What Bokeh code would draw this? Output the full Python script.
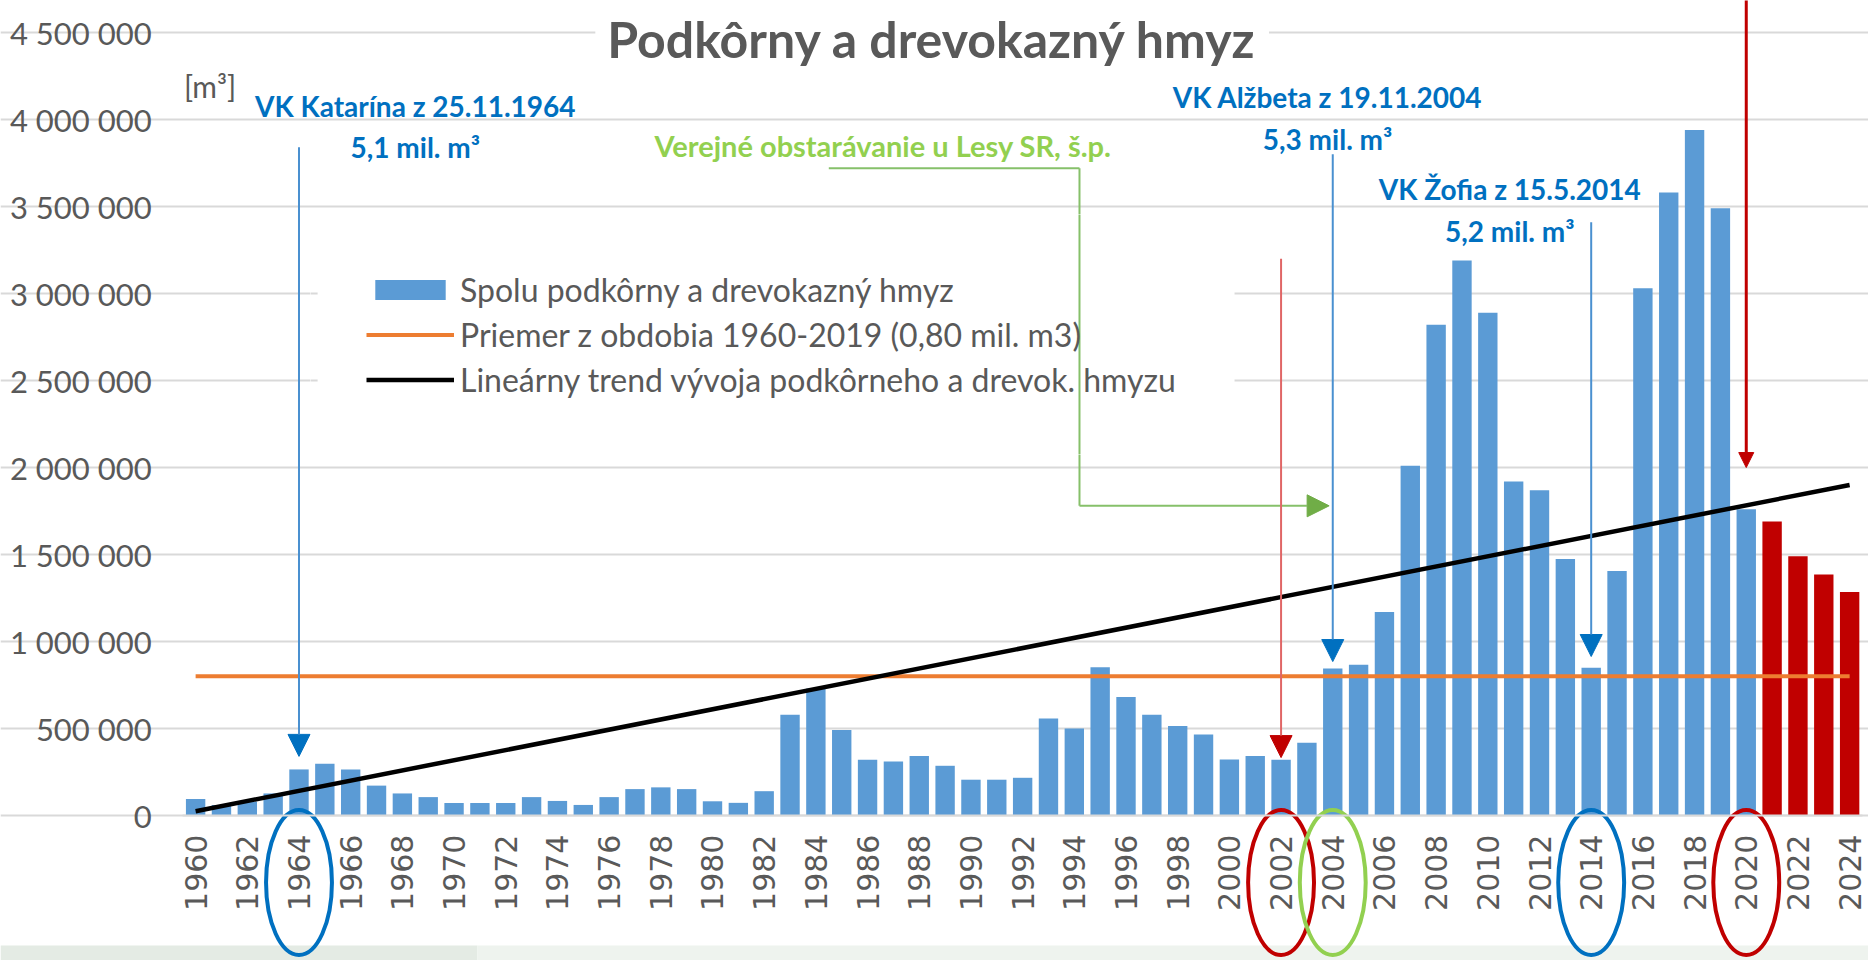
import math
from bokeh.plotting import figure
from bokeh.models import Range1d, FixedTicker, Label, Arrow, NormalHead, BoxAnnotation
from bokeh.embed import file_html
from bokeh.resources import INLINE

# ---------------- data ----------------
hist_years = list(range(1960, 2021))
hist_values = [
    95000, 60000, 80000, 127000, 265000, 298000, 265000, 172000, 127000, 106000,
    72000, 72000, 72000, 106000, 84000, 61000, 106000, 152000, 162000, 152000,
    82000, 73000, 140000, 580000, 730000, 492000, 320000, 311000, 342000, 286000,
    206000, 206000, 217000, 558000, 500000, 852000, 682000, 580000, 514000, 466000,
    322000, 342000, 320000, 418000, 845000, 866000, 1170000, 2010000, 2820000, 3190000,
    2890000, 1920000, 1870000, 1475000, 850000, 1405000, 3030000, 3580000, 3940000, 3490000,
    1760000,
]
forecast_years = [2021, 2022, 2023, 2024]
forecast_values = [1690000, 1490000, 1385000, 1285000]

avg_years = [1960, 2024]
avg_values = [800000, 800000]
trend_years = [1960, 2024]
trend_values = [25000, 1900000]

y_ticks = [0, 500000, 1000000, 1500000, 2000000, 2500000, 3000000, 3500000, 4000000, 4500000]
y_tick_labels = ["0", "500 000", "1 000 000", "1 500 000", "2 000 000", "2 500 000",
                 "3 000 000", "3 500 000", "4 000 000", "4 500 000"]
x_ticks = list(range(1960, 2025, 2))
x_tick_labels = [str(y) for y in x_ticks]

series_names = ["Spolu podkôrny a drevokazný hmyz",
                "Priemer z obdobia 1960-2019 (0,80 mil. m3)",
                "Lineárny trend vývoja podkôrneho a drevok. hmyzu"]
title_text = "Podkôrny a drevokazný hmyz"
unit_text = "[m³]"

# highlighted years (ellipses around the axis labels)
highlight_years = [1964, 2002, 2004, 2014, 2020]
highlight_colors = ["#0070C0", "#C00000", "#92D050", "#0070C0", "#C00000"]

# calamity annotations
event_titles = ["VK Katarína z 25.11.1964", "VK Alžbeta z 19.11.2004", "VK Žofia z 15.5.2014"]
event_volumes = ["5,1 mil. m³", "5,3 mil. m³", "5,2 mil. m³"]
event_text_x = [1968.5, 2003.8, 2010.85]
event_title_y = [4075000, 4130000, 3600000]
event_volume_y = [3840000, 3890000, 3360000]
event_years = [1964, 2004, 2014]
event_arrow_from = [3840000, 3800000, 3410000]
event_arrow_to = [340000, 885000, 914000]

procurement_text = "Verejné obstarávanie u Lesy SR, š.p."
procurement_text_pos = [1986.6, 3850000]
procurement_path_x = [1984.5, 1994.2, 1994.2]
procurement_path_y = [3720000, 3720000, 1780000]
procurement_arrow_end = [2003.86, 1780000]

red_arrow_years = [2002, 2020]
red_arrow_from = [3200000, 4690000]
red_arrow_to = [333000, 2000000]

# white area behind the legend (left, right, bottom, top)
legend_box = [1964.72, 2000.2, 2086000, 3448000]

# ---------------- figure ----------------
GRAY = "#595959"
X0, X1 = 1959.5, 2024.5          # extent of the category axis
p = figure(width=1868, height=960,
           x_range=Range1d(1952.45, 2024.73), y_range=Range1d(-833000, 4684000),
           output_backend="svg", toolbar_location=None,
           min_border_left=0, min_border_right=0, min_border_top=0, min_border_bottom=0,
           outline_line_color=None, background_fill_color="white", border_fill_color="white")

# faint slide band at the bottom
p.add_layout(BoxAnnotation(top=-747000, right=1970.9, fill_color="#E4EBE4", fill_alpha=1,
                           line_color=None, level="underlay"))
p.add_layout(BoxAnnotation(top=-747000, left=1970.9, fill_color="#EEF3EE", fill_alpha=1,
                           line_color=None, level="underlay"))
# white legend background (covers the grid lines only)
p.add_layout(BoxAnnotation(left=legend_box[0], right=legend_box[1],
                           bottom=legend_box[2], top=legend_box[3],
                           fill_color="white", fill_alpha=1, line_color=None, level="glyph"))

p.vbar(x=hist_years, top=hist_values, width=0.75, fill_color="#5B9BD5", line_color=None,
       legend_label=series_names[0])
p.vbar(x=forecast_years, top=forecast_values, width=0.75, fill_color="#C00000", line_color=None)
p.line(avg_years, avg_values, line_color="#ED7D31", line_width=4, legend_label=series_names[1])
p.line(trend_years, trend_values, line_color="black", line_width=4.5, legend_label=series_names[2])

# ellipses around selected year labels
p.ellipse(x=highlight_years, y=[-385000] * len(highlight_years), width=2.55, height=833000,
          fill_color=None, line_color=highlight_colors, line_width=4)

# axes
yt = FixedTicker(ticks=y_ticks)
p.yaxis.fixed_location = X0
p.yaxis.ticker = yt
p.ygrid.ticker = yt
p.ygrid.bounds = (X0, X1)
p.yaxis.major_label_overrides = {t: l for t, l in zip(y_ticks, y_tick_labels)}
p.yaxis.axis_line_color = None
p.yaxis.major_tick_line_color = None
p.yaxis.minor_tick_line_color = None
p.yaxis.major_label_text_font = "Lato"
p.yaxis.major_label_text_font_size = "31px"
p.yaxis.major_label_text_color = GRAY
p.yaxis.major_label_standoff = 25

p.ygrid.grid_line_color = "#D9D9D9"
p.ygrid.grid_line_width = 2
p.xgrid.visible = False

p.xaxis.fixed_location = 0
p.xaxis.bounds = (X0, X1)
p.xaxis.ticker = FixedTicker(ticks=x_ticks)
p.xaxis.major_label_overrides = {t: l for t, l in zip(x_ticks, x_tick_labels)}
p.xaxis.major_label_orientation = math.pi / 2
p.xaxis.major_label_text_font = "DejaVu Sans"
p.xaxis.major_label_text_font_size = "30px"
p.xaxis.major_label_text_color = GRAY
p.xaxis.major_label_standoff = 13
p.xaxis.axis_line_color = "#D9D9D9"
p.xaxis.axis_line_width = 2
p.xaxis.major_tick_line_color = None
p.xaxis.minor_tick_line_color = None

# legend
lg = p.legend[0]
lg.location = (310, 505)
lg.padding = 55
lg.margin = 0
lg.spacing = 6
lg.glyph_width = 88
lg.glyph_height = 25
lg.label_height = 39
lg.label_standoff = 6
lg.label_text_font = "Lato"
lg.label_text_font_size = "32px"
lg.label_text_color = GRAY
lg.background_fill_alpha = 0
lg.border_line_color = "white"
lg.border_line_width = 1

# title and unit
p.add_layout(Label(x=1988.5, y=4460000, text=title_text, text_font="Lato",
                   text_font_style="bold", text_font_size="50px", text_color=GRAY,
                   text_align="center", text_baseline="middle",
                   background_fill_color="white", padding=12))
p.add_layout(Label(x=1959.55, y=4190000, text=unit_text, text_font="Lato",
                   text_font_size="30px", text_color=GRAY,
                   text_align="left", text_baseline="middle"))

# calamity annotations
for i in range(len(event_titles)):
    p.add_layout(Label(x=event_text_x[i], y=event_title_y[i], text=event_titles[i],
                       text_font="Lato", text_font_style="bold", text_font_size="28px",
                       text_color="#0070C0", text_align="center", text_baseline="middle"))
    p.add_layout(Label(x=event_text_x[i], y=event_volume_y[i], text=event_volumes[i],
                       text_font="Lato", text_font_style="bold", text_font_size="28px",
                       text_color="#0070C0", text_align="center", text_baseline="middle"))
    p.add_layout(Arrow(end=NormalHead(size=22, fill_color="#0070C0", line_color="#0070C0"),
                       x_start=event_years[i], y_start=event_arrow_from[i],
                       x_end=event_years[i], y_end=event_arrow_to[i],
                       line_color="#4A90D0", line_width=2))

# procurement annotation (connector crosses the legend)
p.add_layout(Label(x=procurement_text_pos[0], y=procurement_text_pos[1], text=procurement_text,
                   text_font="Lato", text_font_style="bold", text_font_size="29px",
                   text_color="#92D050", text_align="center", text_baseline="middle"))
for k in range(len(procurement_path_x) - 1):
    p.add_layout(Arrow(end=None, x_start=procurement_path_x[k], y_start=procurement_path_y[k],
                       x_end=procurement_path_x[k + 1], y_end=procurement_path_y[k + 1],
                       line_color="#86C06A", line_width=2))
p.add_layout(Arrow(end=NormalHead(size=22, fill_color="#70AD47", line_color="#70AD47"),
                   x_start=procurement_path_x[-1], y_start=procurement_path_y[-1],
                   x_end=procurement_arrow_end[0], y_end=procurement_arrow_end[1],
                   line_color="#86C06A", line_width=2))

# red arrows
p.add_layout(Arrow(end=NormalHead(size=22, fill_color="#C00000", line_color="#C00000"),
                   x_start=red_arrow_years[0], y_start=red_arrow_from[0],
                   x_end=red_arrow_years[0], y_end=red_arrow_to[0],
                   line_color="#E06666", line_width=2))
p.add_layout(Arrow(end=NormalHead(size=15, fill_color="#C00000", line_color="#C00000"),
                   x_start=red_arrow_years[1], y_start=red_arrow_from[1],
                   x_end=red_arrow_years[1], y_end=red_arrow_to[1],
                   line_color="#C00000", line_width=3))

open("out.html", "w").write(file_html(p, INLINE, title="Podkôrny a drevokazný hmyz"))
